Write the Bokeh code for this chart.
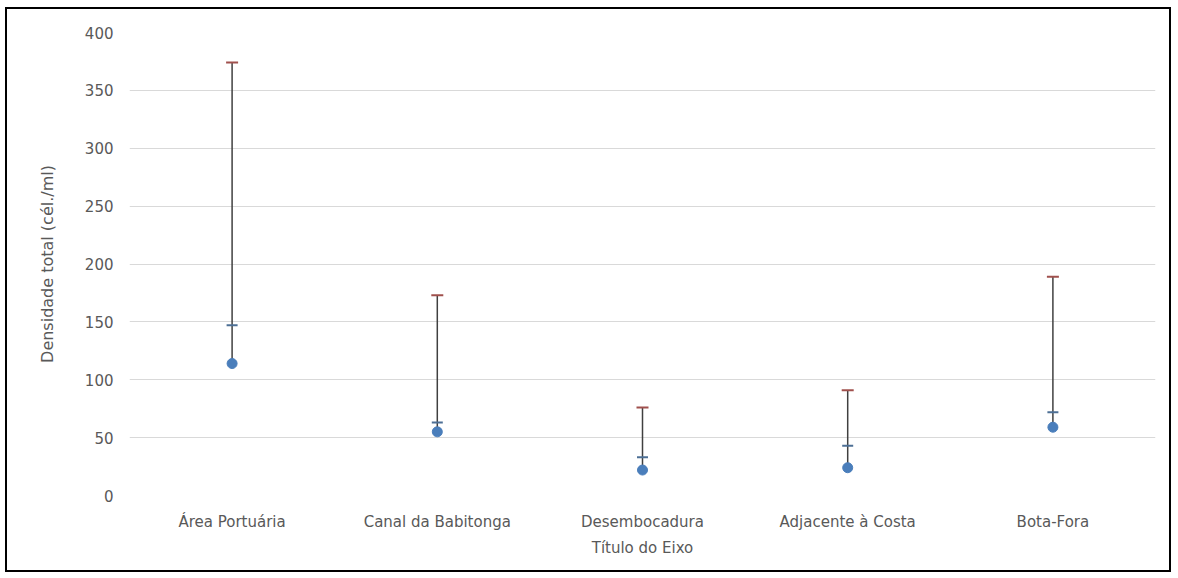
from bokeh.plotting import figure
from bokeh.models import Range1d, FactorRange
from bokeh.embed import file_html
from bokeh.resources import INLINE

# Sampling zones and cell density statistics (cells/ml)
zones = ["Área Portuária", "Canal da Babitonga", "Desembocadura", "Adjacente à Costa", "Bota-Fora"]
maximum = [374, 173, 76, 91, 189]
mean = [147, 63, 33, 43, 72]
minimum = [114, 55, 22, 24, 59]

y_ticks = [0, 50, 100, 150, 200, 250, 300, 350, 400]

FONT = "DejaVu Sans"
TEXT = "#595959"

p = figure(
    width=1166, height=565,
    x_range=FactorRange(*zones, range_padding=0),
    y_range=Range1d(0, 400),
    output_backend="svg", toolbar_location=None,
    min_border_left=122, min_border_right=18,
    min_border_top=23, min_border_bottom=79,
)
p.styles = {"border": "2px solid #000000", "margin-left": "5px", "margin-top": "7px"}
p.outline_line_color = None

# vertical range lines from minimum to maximum
p.segment(x0=zones, y0=minimum, x1=zones, y1=maximum, line_color="#404040", line_width=1.5)
# maximum caps
p.dash(x=zones, y=maximum, size=12, line_color="#A0504D", line_width=2)
# mean ticks
p.dash(x=zones, y=mean, size=11, line_color="#4D6F95", line_width=2)
# minimum markers
p.scatter(x=zones, y=minimum, size=10, fill_color="#4A7EBB", line_color="#4A7EBB")

p.xgrid.grid_line_color = None
p.ygrid.grid_line_color = "#D9D9D9"
p.ygrid.grid_line_width = 1

p.yaxis.ticker = y_ticks
for ax in (p.xaxis[0], p.yaxis[0]):
    ax.axis_line_color = None
    ax.major_tick_line_color = None
    ax.minor_tick_line_color = None
    ax.major_label_text_font = FONT
    ax.major_label_text_font_size = "15px"
    ax.major_label_text_color = TEXT
    ax.axis_label_text_font = FONT
    ax.axis_label_text_font_size = "15px"
    ax.axis_label_text_font_style = "normal"
    ax.axis_label_text_color = TEXT

p.yaxis.axis_label = "Densidade total (cél./ml)"
p.yaxis.axis_label_text_font_size = "16px"
p.yaxis.major_label_standoff = 10
p.yaxis.axis_label_standoff = 25
p.xaxis.axis_label = "Título do Eixo"
p.xaxis.major_label_standoff = 11
p.xaxis.axis_label_standoff = 5

open("out.html", "w").write(file_html(p, INLINE))
